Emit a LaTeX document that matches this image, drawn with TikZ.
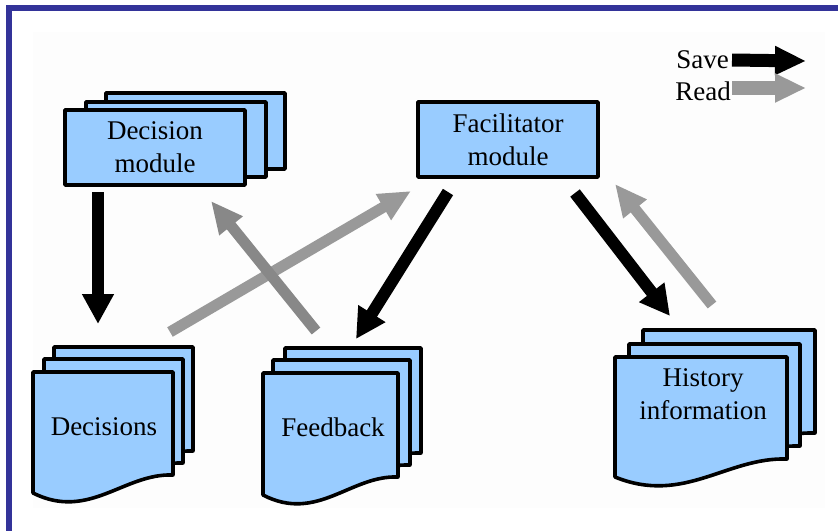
\documentclass[tikz,border=0pt]{standalone}
\usepackage{fontspec}
\setmainfont{Liberation Serif}
\usepackage{tikz}
\usetikzlibrary{arrows.meta,positioning}

\definecolor{sheetblue}{HTML}{99CCFF}
\definecolor{frameblue}{HTML}{333399}
\definecolor{readgray}{HTML}{999999}
\definecolor{readdark}{HTML}{888888}

% one sheet of a document stack: left x, right x, top y, bottom-left y
\newcommand{\docsheet}[4]{%
  \filldraw[sheet] (#1,#3) -- (#2,#3) -- (#2,{#4-18})
    .. controls ({#2-0.35*(#2-#1)},{#4-20}) and ({#1+0.4*(#2-#1)},{#4+28}) .. (#1,#4) -- cycle;}

\tikzset{
  sheet/.style={draw=black,fill=sheetblue,line width=3.6pt,line join=round},
  boxtext/.style={font=\fontsize{27}{33}\selectfont,align=center,inner sep=0pt},
  save/.style={draw=black,line width=12pt,-{Triangle[length=30pt,width=30pt]}},
  read/.style={draw=readgray,line width=11pt,-{Triangle[length=32pt,width=28pt]}},
}

\begin{document}
\begin{tikzpicture}[x=1pt,y=-1pt]
  \useasboundingbox (0,0) rectangle (838,531);
  \fill[white] (0,0) rectangle (838,531);
  \fill[black!0.7] (33,32) rectangle (825,508);
  % frame
  \fill[frameblue] (6,5) rectangle (838,11);
  \fill[frameblue] (6,5) rectangle (12,531);

  % decision module stack
  \filldraw[sheet] (106,93) rectangle (285,169);
  \filldraw[sheet] (86,102) rectangle (266,177);
  \filldraw[sheet] (65,110) rectangle (245,185);
  \node[boxtext] (decmod) at (155,147) {Decision\\module};

  % facilitator
  \filldraw[sheet] (418,102) rectangle (598,177);
  \node[boxtext] (facil) at (508,140) {Facilitator\\module};

  % document stacks
  \docsheet{54}{193}{347}{469}
  \docsheet{44}{183}{359}{481}
  \docsheet{33}{173}{372}{493}
  \node[boxtext] (decisions) at (104,427) {Decisions};

  \docsheet{285}{421}{348}{471}
  \docsheet{273}{410}{360}{483}
  \docsheet{263}{398}{373}{495}
  \node[boxtext] (feedback) at (333,427) {Feedback};

  \docsheet{643}{815}{330}{451}
  \docsheet{629}{800}{344}{464}
  \docsheet{615}{787}{357}{477}
  \node[boxtext] (history) at (703,394) {History\\information};

  % legend
  \node[boxtext,anchor=east] (savelbl) at (729,60) {Save};
  \node[boxtext,anchor=east] (readlbl) at (731,91) {Read};
  \coordinate (save-end) at (806,61);
  \coordinate (read-end) at (806,88);
  \draw[save,line width=13pt,-{Triangle[length=31pt,width=27pt]}] ([xshift=3pt]savelbl.east) -- (save-end);
  \draw[read,line width=14pt,-{Triangle[length=31pt,width=27pt]}] ([xshift=1pt]readlbl.east |- read-end) -- (read-end);

  % connectors
  \coordinate (dm-out) at (98,192);  \coordinate (dc-in) at (98,324);
  \coordinate (dc-out) at (170,332); \coordinate (fm-in1) at (411,191);
  \coordinate (fb-out) at (316,331); \coordinate (dm-in) at (211,201);
  \coordinate (fm-out1) at (448,192); \coordinate (fb-in) at (356,339);
  \coordinate (fm-out2) at (575,193); \coordinate (hi-in) at (670,316);
  \coordinate (hi-out) at (712,305); \coordinate (fm-in2) at (615,184);

  \draw[save] (dm-out) -- (dc-in);
  \draw[read] (dc-out) -- (fm-in1);
  \draw[read,draw=readdark] (fb-out) -- (dm-in);
  \draw[save] (fm-out1) -- (fb-in);
  \draw[save] (fm-out2) -- (hi-in);
  \draw[read] (hi-out) -- (fm-in2);
\end{tikzpicture}
\end{document}
